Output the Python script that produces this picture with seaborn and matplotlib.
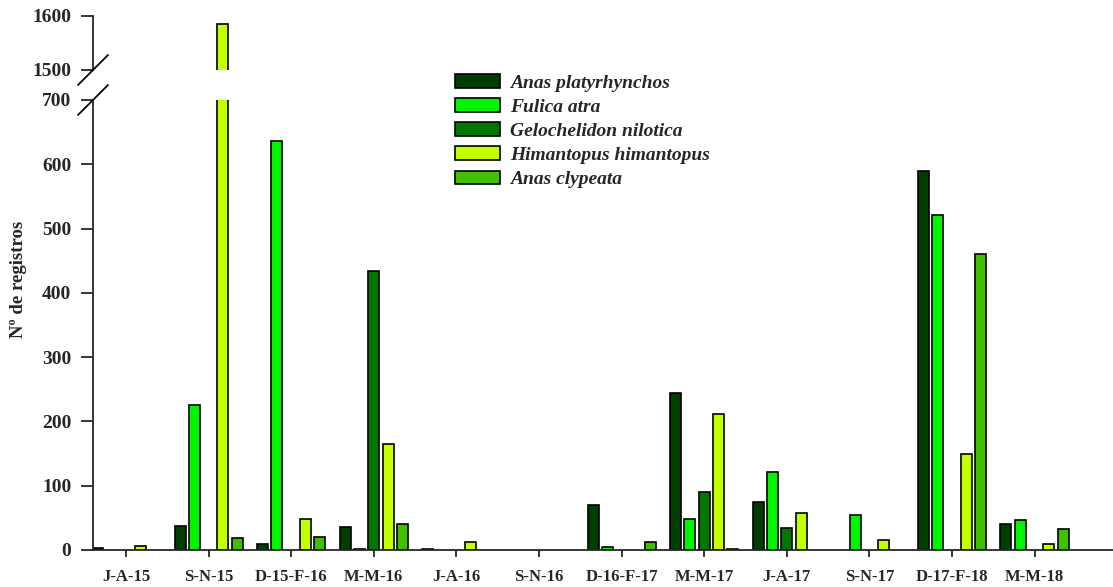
import numpy as np
import pandas as pd
import matplotlib
matplotlib.use("Agg")
import matplotlib.pyplot as plt
from matplotlib.lines import Line2D
import seaborn as sns

# Bimonthly sampling periods and species counts
periods = ["J-A-15", "S-N-15", "D-15-F-16", "M-M-16", "J-A-16", "S-N-16",
           "D-16-F-17", "M-M-17", "J-A-17", "S-N-17", "D-17-F-18", "M-M-18"]
species = ["Anas platyrhynchos", "Fulica atra", "Gelochelidon nilotica",
           "Himantopus himantopus", "Anas clypeata"]
anas_platyrhynchos = [3, 37, 9, 36, 2, 0, 70, 244, 75, 0, 590, 40]
fulica_atra = [0, 226, 636, 2, 0, 0, 4, 48, 121, 55, 521, 47]
gelochelidon_nilotica = [0, 0, 0, 434, 0, 0, 0, 90, 35, 0, 0, 0]
himantopus_himantopus = [7, 1585, 48, 165, 12, 0, 0, 212, 58, 15, 150, 10]
anas_clypeata = [0, 18, 20, 41, 0, 0, 12, 2, 0, 0, 461, 33]
bottom_ticks = [0, 100, 200, 300, 400, 500, 600, 700]
top_ticks = [1500, 1600]

colors = ["#003d00", "#00f500", "#007800", "#c4ff00", "#40c000"]

series = [anas_platyrhynchos, fulica_atra, gelochelidon_nilotica,
          himantopus_himantopus, anas_clypeata]
df = pd.DataFrame({
    "period": np.tile(periods, len(species)),
    "species": np.repeat(species, len(periods)),
    "count": np.concatenate(series),
})

sns.set_style("ticks")
plt.rcParams["font.family"] = ["Liberation Serif", "DejaVu Serif"]
plt.rcParams["font.weight"] = "bold"

W, H = 1113, 587
fig = plt.figure(figsize=(W / 100, H / 100), dpi=100)

left = 93 / W
ax_lo = fig.add_axes([left, (H - 550) / H, 1 - left, 450 / H])
ax_hi = fig.add_axes([left, (H - 70) / H, 1 - left, 54 / H])

bar_kw = dict(data=df, x="period", y="count", hue="species",
              order=periods, hue_order=species, palette=colors,
              width=0.865, gap=0.23, edgecolor="black", linewidth=1.2,
              errorbar=None, saturation=1)
sns.barplot(ax=ax_lo, **bar_kw)
sns.barplot(ax=ax_hi, legend=False, **bar_kw)

handles, labels = ax_lo.get_legend_handles_labels()
ax_lo.get_legend().remove()

# Empty counts get no outline
for ax in (ax_lo, ax_hi):
    for p in ax.patches:
        if p.get_height() == 0:
            p.set_linewidth(0)

for h in handles:
    h.set_edgecolor("black")
    h.set_linewidth(1.2)

for ax in (ax_lo, ax_hi):
    ax.set_xlim(-0.4, 11.95)
    ax.set_xlabel("")
    ax.set_ylabel("")
    for s in ("top", "right"):
        ax.spines[s].set_visible(False)
    for s in ("left", "bottom"):
        ax.spines[s].set_linewidth(1.3)
    ax.tick_params(axis="y", direction="out", length=9, width=1.3,
                   labelsize=14, pad=6.5)

ax_lo.set_ylim(0, 700)
ax_lo.set_yticks(bottom_ticks)
ax_lo.tick_params(axis="x", direction="out", length=5, width=1.3,
                  labelsize=12, pad=9)
for t in ax_lo.get_xticklabels() + ax_lo.get_yticklabels():
    t.set_fontweight("bold")

ax_hi.set_ylim(1500, 1600)
ax_hi.set_yticks(top_ticks)
ax_hi.spines["bottom"].set_visible(False)
ax_hi.set_xticks([])
for t in ax_hi.get_yticklabels():
    t.set_fontweight("bold")

# Axis-break slashes on the left spine
d_x, d_y = 15 / W, 15 / H
for ax, ypos in ((ax_lo, ax_lo.get_position().y1),
                 (ax_hi, ax_hi.get_position().y0)):
    fig.add_artist(Line2D([left - d_x, left + d_x], [ypos - d_y, ypos + d_y],
                          transform=fig.transFigure, color="black", lw=1.3))

fig.text(19 / W, (H - 279) / H, "Nº de registros", rotation=90,
         ha="center", va="center", fontsize=13.5, fontweight="bold")

fig.legend(handles, labels, loc="upper left",
           bbox_to_anchor=(455 / W, (H - 74) / H),
           frameon=False, borderpad=0, borderaxespad=0,
           handlelength=2.3, handleheight=0.72, handletextpad=0.55,
           labelspacing=0.33,
           prop={"family": "Liberation Serif", "style": "italic",
                 "weight": "bold", "size": 14})

fig.savefig("out.png", dpi=100)
